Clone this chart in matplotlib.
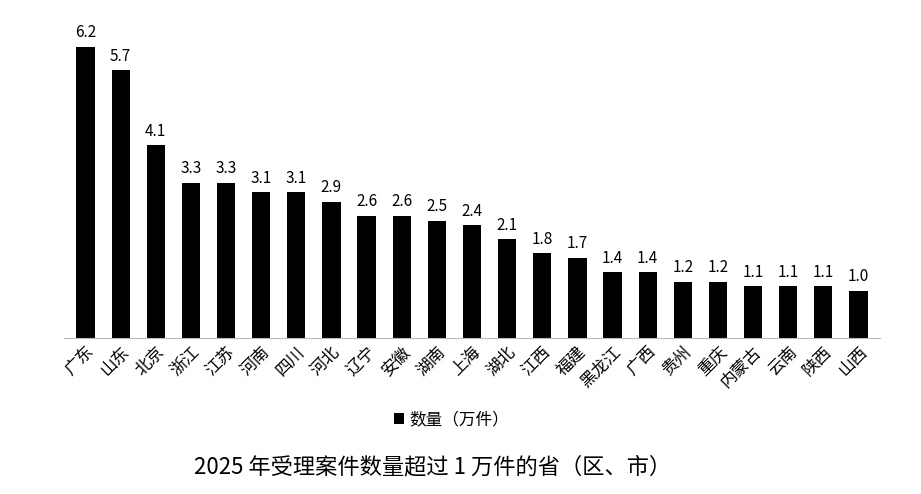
import matplotlib
matplotlib.use("Agg")
import matplotlib.pyplot as plt

plt.rcParams['font.family'] = ['Noto Sans CJK SC', 'DejaVu Sans']

provinces = ["广东", "山东", "北京", "浙江", "江苏", "河南", "四川", "河北", "辽宁", "安徽",
             "湖南", "上海", "湖北", "江西", "福建", "黑龙江", "广西", "贵州", "重庆", "内蒙古",
             "云南", "陕西", "山西"]
counts = [6.2, 5.7, 4.1, 3.3, 3.3, 3.1, 3.1, 2.9, 2.6, 2.6,
          2.5, 2.4, 2.1, 1.8, 1.7, 1.4, 1.4, 1.2, 1.2, 1.1,
          1.1, 1.1, 1.0]

fig = plt.figure(figsize=(9.21, 4.94), dpi=100)
ax = fig.add_axes([0.07, 0.316, 0.885, 0.627])

x = range(len(provinces))
ax.bar(x, counts, width=0.52, color="black", label="数量（万件）")
for xi, v in zip(x, counts):
    ax.text(xi, v + 0.12, f"{v:.1f}", ha="center", va="bottom", fontsize=11)

ax.set_ylim(0, 6.6)
ax.set_xlim(-0.6, len(provinces) - 0.4)
ax.set_yticks([])
ax.set_xticks(list(x))
ax.set_xticklabels(provinces, rotation=45, ha="right", rotation_mode="anchor", fontsize=12)
ax.tick_params(axis="x", length=0, pad=4)
for s in ["top", "right", "left"]:
    ax.spines[s].set_visible(False)
ax.spines["bottom"].set_color("#bbbbbb")

fig.legend(loc="center", bbox_to_anchor=(0.49, 0.15), frameon=False, fontsize=12,
           handlelength=0.6, handleheight=0.6, handletextpad=0.3)
fig.text(0.47, 0.055, "2025 年受理案件数量超过 1 万件的省（区、市）", ha="center", va="center",
         fontsize=16)

fig.savefig("out.png", dpi=100)
